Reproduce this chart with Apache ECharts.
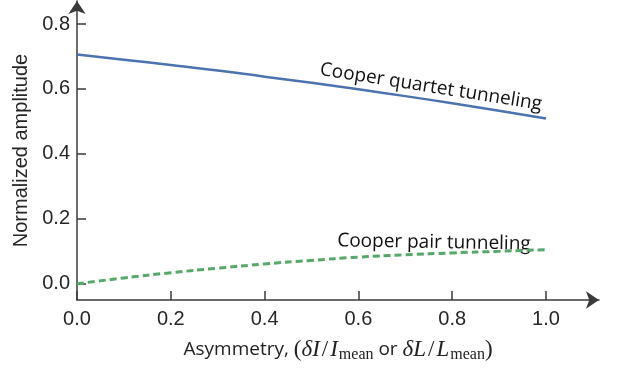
<!DOCTYPE html>
<html>
<head>
<meta charset="utf-8">
<script src="https://cdn.jsdelivr.net/npm/echarts@6/dist/echarts.min.js"></script>
<style>html,body{margin:0;padding:0;background:#fff}#c{width:623px;height:368px}</style>
</head>
<body>
<div id="c"></div>
<script>
const asymmetry = [0.0, 0.1, 0.2, 0.3, 0.4, 0.5, 0.6, 0.7, 0.8, 0.9, 1.0];
const quartet   = [0.706, 0.690, 0.674, 0.657, 0.638, 0.619, 0.599, 0.578, 0.556, 0.533, 0.509];
const pair      = [0.000, 0.018, 0.034, 0.048, 0.061, 0.072, 0.082, 0.089, 0.095, 0.100, 0.105];
const xTicks = [0.0, 0.2, 0.4, 0.6, 0.8, 1.0];
const yTicks = [0.0, 0.2, 0.4, 0.6, 0.8];
const quartetLabel = 'Cooper quartet tunneling';
const pairLabel = 'Cooper pair tunneling';

const chart = echarts.init(document.getElementById('c'), null, {renderer: 'canvas'});
const axisColor = '#3a3a3a';
const tickFont = {fontFamily: 'Liberation Sans', fontSize: 20, color: '#262626'};
const annFont = '19px "Open Sans"';

chart.setOption({
  animation: false,
  grid: {left: 77, right: 24, top: 1, bottom: 64, containLabel: false},
  xAxis: {
    type: 'value', min: 0, max: 1.113,
    axisLine: {show: true, onZero: false, symbol: ['none', 'arrow'], symbolSize: [13, 13], lineStyle: {color: axisColor, width: 1.5}},
    axisTick: {show: true, inside: true, length: 9, customValues: xTicks, lineStyle: {color: axisColor, width: 1.5}},
    splitLine: {show: false},
    axisLabel: Object.assign({margin: 9, customValues: xTicks, formatter: v => v.toFixed(1)}, tickFont),
    name: '{s|Asymmetry, }{p|(}{m|δI}{sl|/}{m|I}{sub|mean}{s| or }{m|δL}{sl|/}{m|L}{sub|mean}{p|)}',
    nameLocation: 'middle', nameGap: 36,
    nameTextStyle: {
      rich: {
        s: {fontFamily: 'Open Sans', fontSize: 19, color: '#222'},
        m: {fontFamily: 'Liberation Serif', fontStyle: 'italic', fontSize: 23, color: '#222'},
        sl: {fontFamily: 'Liberation Serif', fontSize: 23, color: '#222', padding: [0, 2, 0, 2]},
        p: {fontFamily: 'Liberation Serif', fontSize: 23, color: '#222'},
        sub: {fontFamily: 'Liberation Serif', fontSize: 16, color: '#222', padding: [11, 0, 0, 1]}
      }
    }
  },
  yAxis: {
    type: 'value', min: -0.05, max: 0.871,
    axisLine: {show: true, onZero: false, symbol: ['none', 'arrow'], symbolSize: [13, 13], lineStyle: {color: axisColor, width: 1.5}},
    axisTick: {show: true, inside: true, length: 9, customValues: yTicks, lineStyle: {color: axisColor, width: 1.5}},
    splitLine: {show: false},
    axisLabel: Object.assign({margin: 7, customValues: yTicks, formatter: v => v.toFixed(1)}, tickFont),
    name: 'Normalized amplitude', nameLocation: 'middle', nameGap: 35,
    nameTextStyle: {fontFamily: 'Liberation Sans', fontSize: 20, color: '#262626'}
  },
  series: [
    {type: 'line', data: asymmetry.map((x, i) => [x, quartet[i]]), smooth: true, showSymbol: false,
     lineStyle: {color: '#4c72b0', width: 2.5}},
    {type: 'line', data: asymmetry.map((x, i) => [x, pair[i]]), smooth: true, showSymbol: false,
     lineStyle: {color: '#55a868', width: 3, type: [7, 4]}}
  ],
  graphic: [
    {type: 'text', x: 431, y: 87, rotation: -9 * Math.PI / 180,
     style: {text: quartetLabel, font: annFont, fill: '#111', align: 'center', verticalAlign: 'middle'}},
    {type: 'text', x: 434, y: 242.5, rotation: -1 * Math.PI / 180,
     style: {text: pairLabel, font: annFont, fill: '#111', align: 'center', verticalAlign: 'middle'}}
  ]
});
</script>
</body>
</html>
